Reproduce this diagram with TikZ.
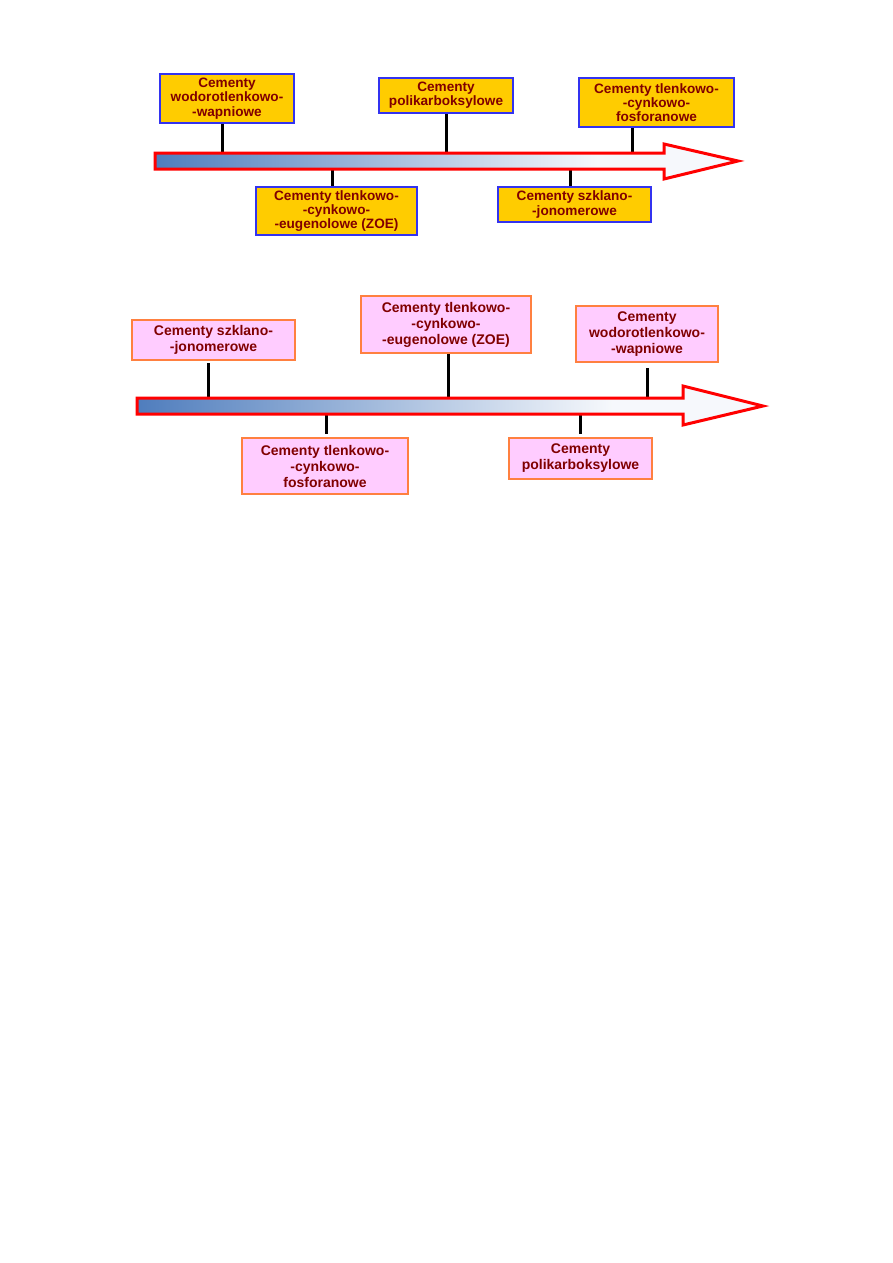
\documentclass[tikz,border=0pt]{standalone}
\usepackage{fontspec}
\setmainfont{Liberation Sans}
\usetikzlibrary{positioning}
\definecolor{boxgold}{RGB}{255,204,0}
\definecolor{boxblue}{RGB}{51,51,240}
\definecolor{boxpink}{RGB}{255,204,255}
\definecolor{boxorange}{RGB}{255,128,64}
\definecolor{labelred}{RGB}{128,0,0}
\definecolor{arrowblue}{RGB}{79,125,189}
\colorlet{arrowwhite}{arrowblue!5!white}
\pgfdeclarehorizontalshading{timeshade}{100bp}{color(0bp)=(arrowblue); color(25bp)=(arrowblue); color(63bp)=(arrowwhite); color(100bp)=(arrowwhite)}

\begin{document}
\begin{tikzpicture}[
        x=1pt, y=-1pt,
        goldbox/.style={draw=boxblue, fill=boxgold, line width=1.5pt, text=labelred,
            align=center, inner sep=0pt, font=\bfseries\fontsize{13.6}{14.2}\selectfont},
        pinkbox/.style={draw=boxorange, fill=boxpink, line width=1.5pt, text=labelred,
            align=center, inner sep=0pt, font=\bfseries\fontsize{14}{16}\selectfont},
        stem/.style={line width=3pt, black},
        timearrow/.style={shading=timeshade, draw=red, line width=3pt, line join=miter}
    ]
    \path[use as bounding box, fill=white] (0,0) rectangle (893,1263);
    % Define nodes (upper timeline)
    \node[goldbox, minimum width=134pt, minimum height=49pt] (A1) at (227,98.5) {Cementy\\wodorotlenkowo-\\-wapniowe};
    \node[goldbox, minimum width=134pt, minimum height=35pt] (B1) at (446,95.5) {Cementy\\polikarboksylowe};
    \node[goldbox, minimum width=155pt, minimum height=49pt] (C1) at (656.5,102.5) {Cementy tlenkowo-\\-cynkowo-\\fosforanowe};
    \node[goldbox, minimum width=161pt, minimum height=48pt] (D1) at (336.5,211) {Cementy tlenkowo-\\-cynkowo-\\-eugenolowe (ZOE)};
    \node[goldbox, minimum width=153pt, minimum height=35pt] (E1) at (574.5,204.5) {Cementy szklano-\\-jonomerowe};
    \coordinate (a1) at (222,153);
    \coordinate (b1) at (446,153);
    \coordinate (c1) at (632,153);
    \coordinate (d1) at (332,169);
    \coordinate (e1) at (570,169);
    % Define nodes (lower timeline)
    \node[pinkbox, minimum width=163pt, minimum height=40pt] (F2) at (213.5,340) {Cementy szklano-\\-jonomerowe};
    \node[pinkbox, minimum width=170pt, minimum height=57pt] (G2) at (446,324.5) {Cementy tlenkowo-\\-cynkowo-\\-eugenolowe (ZOE)};
    \node[pinkbox, minimum width=142pt, minimum height=56pt] (H2) at (647,334) {Cementy\\wodorotlenkowo-\\-wapniowe};
    \node[pinkbox, minimum width=166pt, minimum height=56pt] (I2) at (325,466) {Cementy tlenkowo-\\-cynkowo-\\fosforanowe};
    \node[pinkbox, minimum width=143pt, minimum height=41pt] (J2) at (580.5,458.5) {Cementy\\polikarboksylowe};
    \coordinate (f0) at (208,363);
    \coordinate (f1) at (208,398);
    \coordinate (g1) at (448,398);
    \coordinate (h0) at (647,368);
    \coordinate (h1) at (647,398);
    \coordinate (i0) at (326,414);
    \coordinate (i1) at (326,434);
    \coordinate (j0) at (580,414);
    \coordinate (j1) at (580,434);
    % Draw edges
    \draw[stem] (A1.south -| a1) -- (a1);
    \draw[stem] (B1.south -| b1) -- (b1);
    \draw[stem] (C1.south -| c1) -- (c1);
    \draw[stem] (d1) -- (D1.north -| d1);
    \draw[stem] (e1) -- (E1.north -| e1);
    \draw[stem] (f0) -- (f1);
    \draw[stem] (G2.south -| g1) -- (g1);
    \draw[stem] (h0) -- (h1);
    \draw[stem] (i0) -- (i1);
    \draw[stem] (j0) -- (j1);
    % Draw arrows
    \shadedraw[timearrow] (155,153) -- (664,153) -- (664,144) -- (738,161)
        -- (664,179) -- (664,169) -- (155,169) -- cycle;
    \shadedraw[timearrow] (137,398) -- (683,398) -- (683,386) -- (763,406)
        -- (683,425) -- (683,414) -- (137,414) -- cycle;
\end{tikzpicture}
\end{document}
